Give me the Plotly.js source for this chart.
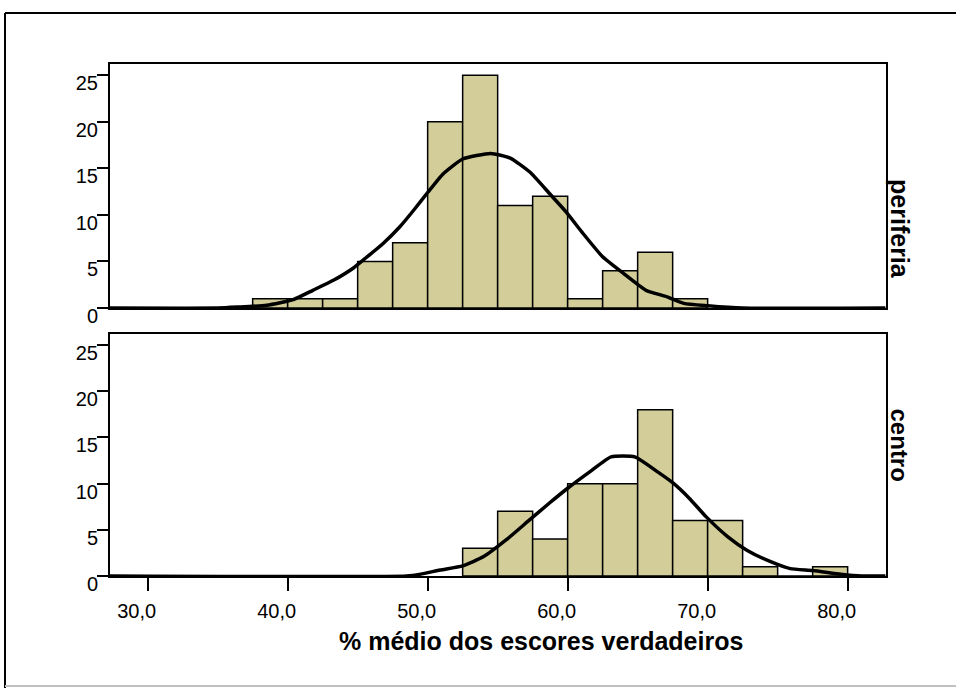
<!DOCTYPE html>
<html>
<head>
<meta charset="utf-8">
<script src="https://cdn.plot.ly/plotly-3.0.1.min.js"></script>
<style>html,body{margin:0;padding:0;background:#fff;}#chart{width:956px;height:688px;}</style>
</head>
<body>
<div id="chart"></div>
<script>
// Histogram bins (left edges, width 2.5) and counts
var binWidth = 2.5;
var periferiaBins = [37.5, 40, 42.5, 45, 47.5, 50, 52.5, 55, 57.5, 60, 62.5, 65, 67.5];
var periferiaCounts = [1, 1, 1, 5, 7, 20, 25, 11, 12, 1, 4, 6, 1];
var centroBins = [52.5, 55, 57.5, 60, 62.5, 65, 67.5, 70, 72.5, 75, 77.5];
var centroCounts = [3, 7, 4, 10, 10, 18, 6, 6, 1, 0, 1];

// Normal curves, points
var periferiaCurveX = [27.3, 35, 36.4, 38.5, 40.4, 41.8, 43.3, 44.7, 45.6, 46.8, 48.0, 49.0, 50.0, 51.1, 52.5, 54.5, 55.9, 57.3, 58.7, 59.9, 61.1, 62.5, 64.0, 65.6, 67.1, 68.3, 70.0, 72.5, 82.7];
var periferiaCurveY = [0, 0, 0.1, 0.3, 0.9, 1.9, 3.0, 4.3, 5.4, 6.9, 8.7, 10.5, 12.4, 14.4, 16.0, 16.6, 16.1, 14.6, 12.3, 10.3, 8.0, 5.5, 3.7, 1.9, 1.2, 0.5, 0.25, 0, 0];
var centroCurveX = [27.3, 48.5, 49.5, 50.9, 52.5, 54.0, 55.6, 57.3, 58.7, 60.0, 61.6, 63.1, 64.8, 66.4, 67.5, 68.7, 69.9, 71.4, 72.8, 74.5, 75.9, 77.5, 79.5, 81, 82.7];
var centroCurveY = [0, 0, 0.2, 0.65, 1.1, 2.1, 3.9, 6.1, 7.9, 9.5, 11.3, 12.9, 12.9, 11.3, 10.1, 8.4, 6.4, 4.3, 2.8, 1.55, 0.8, 0.6, 0.2, 0, 0];

// Tick labels
var xTickVals = [30, 40, 50, 60, 70, 80];
var xTickText = ["30,0", "40,0", "50,0", "60,0", "70,0", "80,0"];
var yTickVals = [0, 5, 10, 15, 20, 25];
var yTickText = ["0", "5", "10", "15", "20", "25"];
var panelLabels = ["periferia", "centro"];
var xTitle = "% médio dos escores verdadeiros";

var FONT = "Liberation Sans, Arial, sans-serif";
var barColor = "rgb(211,206,153)";

var traces = [
  {type: "bar", x: periferiaBins, y: periferiaCounts, width: binWidth, offset: 0,
   marker: {color: barColor, line: {color: "#000", width: 1.5}}, xaxis: "x", yaxis: "y", hoverinfo: "none"},
  {type: "scatter", mode: "lines", x: periferiaCurveX, y: periferiaCurveY,
   line: {color: "#000", width: 3.5, shape: "spline", smoothing: 0.5}, xaxis: "x", yaxis: "y", hoverinfo: "none"},
  {type: "bar", x: centroBins, y: centroCounts, width: binWidth, offset: 0,
   marker: {color: barColor, line: {color: "#000", width: 1.5}}, xaxis: "x2", yaxis: "y2", hoverinfo: "none"},
  {type: "scatter", mode: "lines", x: centroCurveX, y: centroCurveY,
   line: {color: "#000", width: 3.5, shape: "spline", smoothing: 0.5}, xaxis: "x2", yaxis: "y2", hoverinfo: "none"}
];

var yAxisCommon = {
  range: [0, 26.2], tickvals: yTickVals, ticktext: yTickText,
  ticks: "outside", ticklen: 11, tickwidth: 2, tickcolor: "#000",
  showline: true, linecolor: "#000", linewidth: 2, mirror: true,
  showgrid: false, zeroline: false,
  tickfont: {family: FONT, size: 20, color: "#000"},
  ticklabelshift: 8, ticklabelstandoff: -5
};
var xRange = [27.31, 82.74];

var layout = {
  width: 956, height: 688,
  margin: {l: 110, r: 70, t: 64, b: 112},
  paper_bgcolor: "#fff", plot_bgcolor: "#fff",
  showlegend: false, bargap: 0,
  xaxis: {domain: [0, 1], anchor: "y", range: xRange, showticklabels: false, ticks: "",
          showline: true, linecolor: "#000", linewidth: 2, mirror: true, showgrid: false, zeroline: false},
  yaxis: Object.assign({domain: [0.5234, 1], anchor: "x"}, yAxisCommon),
  xaxis2: {domain: [0, 1], anchor: "y2", range: xRange, tickvals: xTickVals, ticktext: xTickText,
           ticks: "outside", ticklen: 13, tickwidth: 2, tickcolor: "#000",
           showline: true, linecolor: "#000", linewidth: 2, mirror: true, showgrid: false, zeroline: false,
           tickfont: {family: FONT, size: 20, color: "#000"}, ticklabelshift: -11, ticklabelstandoff: 3},
  yaxis2: Object.assign({domain: [0, 0.4727], anchor: "x2"}, yAxisCommon),
  annotations: [
    {text: panelLabels[0], xref: "paper", yref: "paper", x: 1.018, y: 0.6777, textangle: 90,
     showarrow: false, xanchor: "center", yanchor: "middle", font: {family: FONT, size: 25, color: "#000", weight: "bold"}},
    {text: panelLabels[1], xref: "paper", yref: "paper", x: 1.018, y: 0.2549, textangle: 90,
     showarrow: false, xanchor: "center", yanchor: "middle", font: {family: FONT, size: 24, color: "#000", weight: "bold"}},
    {text: xTitle, xref: "paper", yref: "paper", x: 0.5548, y: -0.127,
     showarrow: false, xanchor: "center", yanchor: "middle", font: {family: FONT, size: 25, color: "#000", weight: "bold"}}
  ],
  shapes: [
    {type: "line", xref: "paper", yref: "paper", x0: -0.1353, x1: -0.1353, y0: 1.0996, y1: -0.25, line: {color: "#000", width: 2}},
    {type: "line", xref: "paper", yref: "paper", x0: -0.1353, x1: 1.1, y0: 1.0996, y1: 1.0996, line: {color: "#000", width: 2}},
    {type: "line", xref: "paper", yref: "paper", x0: -0.1353, x1: 1.1, y0: -0.2148, y1: -0.2148, line: {color: "#c0c0c0", width: 2}}
  ]
};

Plotly.newPlot("chart", traces, layout, {displayModeBar: false, staticPlot: true});
</script>
</body>
</html>
